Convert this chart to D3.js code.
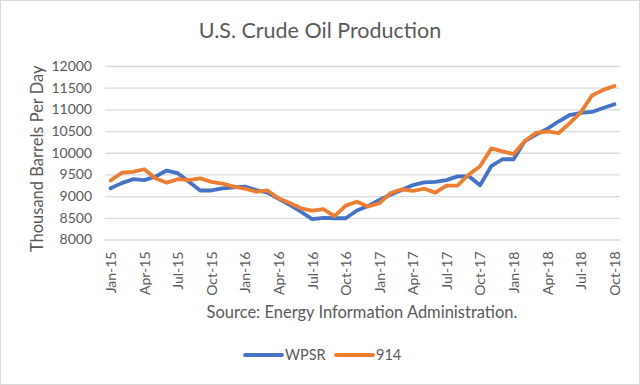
<!DOCTYPE html>
<html>
  <head>
    <title>U.S. Crude Oil Production</title>
    <script src="https://cdn.jsdelivr.net/npm/d3@7"></script>
    <style>
      body { margin: 0; background: #fff; }
      text { font-family: Lato, "Open Sans", sans-serif; fill: #595959; }
    </style>
  </head>
  <body>
    <svg width="640" height="385" id="mainsvg"></svg>
    <script>
      // monthly categories, Jan-15 .. Oct-18
      const months = [
        'Jan-15','Feb-15','Mar-15','Apr-15','May-15','Jun-15','Jul-15','Aug-15','Sep-15','Oct-15','Nov-15','Dec-15',
        'Jan-16','Feb-16','Mar-16','Apr-16','May-16','Jun-16','Jul-16','Aug-16','Sep-16','Oct-16','Nov-16','Dec-16',
        'Jan-17','Feb-17','Mar-17','Apr-17','May-17','Jun-17','Jul-17','Aug-17','Sep-17','Oct-17','Nov-17','Dec-17',
        'Jan-18','Feb-18','Mar-18','Apr-18','May-18','Jun-18','Jul-18','Aug-18','Sep-18','Oct-18'
      ];
      const wpsr = [
        9180, 9300, 9390, 9370, 9450, 9590, 9530, 9330, 9130, 9130, 9180, 9200,
        9220, 9140, 9080, 8940, 8800, 8640, 8470, 8500, 8490, 8490, 8670, 8770,
        8910, 9030, 9140, 9255, 9315, 9330, 9370, 9455, 9460, 9250, 9690, 9850,
        9850, 10270, 10420, 10550, 10720, 10870, 10920, 10940, 11030, 11120
      ];
      const eia914 = [
        9360, 9540, 9560, 9620, 9410, 9310, 9390, 9370, 9410, 9330, 9290, 9220,
        9170, 9100, 9130, 8950, 8840, 8720, 8665, 8700, 8540, 8780, 8870, 8760,
        8835, 9070, 9157, 9120, 9170, 9080, 9240, 9245, 9500, 9690, 10100, 10030,
        9970, 10270, 10460, 10490, 10450, 10680, 10930, 11320, 11450, 11540
      ];
      const yTicks = [8000, 8500, 9000, 9500, 10000, 10500, 11000, 11500, 12000];
      const xTickLabels = months.filter((m, i) => i % 3 === 0);

      const series = [
        {name: 'WPSR', values: wpsr, color: '#4472C4'},
        {name: '914', values: eia914, color: '#ED7D31'}
      ];

      const svg = d3.select('#mainsvg');
      const width = +svg.attr('width');
      const height = +svg.attr('height');
      const plot = {left: 105, right: 620, top: 66, bottom: 239.5};

      // outer chart border
      svg.append('rect')
        .attr('x', 0.5).attr('y', 0.5)
        .attr('width', width - 1).attr('height', height - 1)
        .attr('fill', '#fff').attr('stroke', '#d9d9d9');

      const xScale = d3.scalePoint()
        .domain(months)
        .range([plot.left, plot.right])
        .padding(0.5);
      const yScale = d3.scaleLinear()
        .domain([8000, 12000])
        .range([plot.bottom, plot.top]);

      // y axis + gridlines
      const yAxis = d3.axisLeft(yScale)
        .tickValues(yTicks)
        .tickSize(-(plot.right - plot.left))
        .tickPadding(13)
        .tickFormat(d3.format('d'));
      const yAxisGroup = svg.append('g')
        .attr('transform', `translate(${plot.left}, 0)`)
        .call(yAxis);
      yAxisGroup.selectAll('.domain').remove();
      yAxisGroup.selectAll('.tick line').attr('stroke', '#d9d9d9').attr('stroke-width', 1.3);
      yAxisGroup.selectAll('text').style('font-size', '14px').attr('fill', '#595959');

      // x axis, a label every 3 months
      const xAxis = d3.axisBottom(xScale)
        .tickValues(xTickLabels)
        .tickSize(0);
      const xAxisGroup = svg.append('g')
        .attr('transform', `translate(0, ${plot.bottom})`)
        .call(xAxis);
      xAxisGroup.selectAll('.domain').remove();
      xAxisGroup.selectAll('text')
        .attr('transform', 'rotate(-90)')
        .attr('text-anchor', 'end')
        .attr('x', -12)
        .attr('y', 0)
        .attr('dy', '0.35em')
        .style('font-size', '14px')
        .attr('fill', '#595959');

      // lines
      const line = d3.line()
        .x((d, i) => xScale(months[i]))
        .y(d => yScale(d));
      svg.selectAll('.series')
        .data(series)
        .join('path')
        .attr('class', 'series')
        .attr('fill', 'none')
        .attr('stroke', d => d.color)
        .attr('stroke-width', 3.8)
        .attr('stroke-linejoin', 'round')
        .attr('stroke-linecap', 'round')
        .attr('d', d => line(d.values));

      // titles
      svg.append('text')
        .attr('x', 320).attr('y', 38)
        .attr('text-anchor', 'middle')
        .style('font-size', '21.5px')
        .text('U.S. Crude Oil Production');
      svg.append('text')
        .attr('transform', `translate(43, ${(plot.top + plot.bottom) / 2 + 6}) rotate(-90)`)
        .attr('text-anchor', 'middle')
        .style('font-size', '16.5px')
        .text('Thousand Barrels Per Day');
      svg.append('text')
        .attr('x', 362).attr('y', 318)
        .attr('text-anchor', 'middle')
        .style('font-size', '16.5px')
        .text('Source: Energy Information Administration.');

      // legend
      const legend = svg.append('g').attr('transform', 'translate(245, 355)');
      const item = legend.selectAll('g')
        .data(series)
        .join('g')
        .attr('transform', (d, i) => `translate(${i * 91}, 0)`);
      item.append('line')
        .attr('x1', 0).attr('x2', 37)
        .attr('stroke', d => d.color)
        .attr('stroke-width', 3.8)
        .attr('stroke-linecap', 'round');
      item.append('text')
        .attr('x', 40).attr('dy', '0.35em')
        .style('font-size', '14.5px')
        .text(d => d.name);
    </script>
  </body>
</html>
